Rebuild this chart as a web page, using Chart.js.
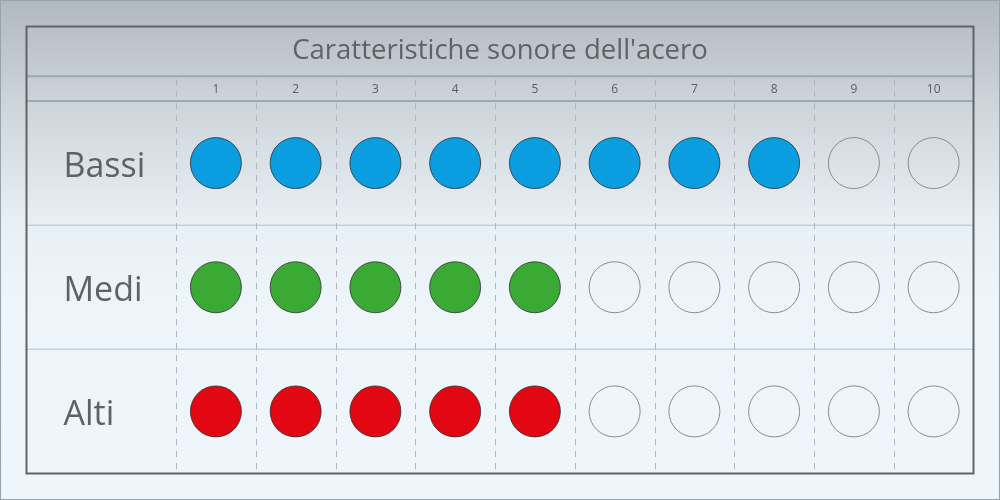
<!DOCTYPE html>
<html>
<head>
<meta charset="utf-8">
<script src="https://cdn.jsdelivr.net/npm/chart.js@4"></script>
<style>
  html,body{margin:0;padding:0;background:#ffffff;}
  #wrap{width:1000px;height:500px;}
</style>
</head>
<body>
<div id="wrap"><canvas id="c" width="1000" height="500"></canvas></div>
<script>
// ---- data ----
const chartTitle = "Caratteristiche sonore dell'acero";
const rowLabels = ["Bassi", "Medi", "Alti"];
const rowScores = [8, 5, 5];           // filled circles out of 10
const columnLabels = ["1","2","3","4","5","6","7","8","9","10"];
const rowColors = ["#0a9de0", "#3aaa35", "#e30613"];

// ---- build datasets from data ----
const rowY = rowLabels.map((_, i) => rowLabels.length - i - 0.5); // 2.5, 1.5, 0.5
const datasets = [];
const emptyPoints = [];
rowLabels.forEach((lab, r) => {
  const filled = [];
  columnLabels.forEach((c, k) => {
    const pt = {x: k + 1, y: rowY[r]};
    if (k < rowScores[r]) filled.push(pt); else emptyPoints.push(pt);
  });
  datasets.push({
    label: lab,
    data: filled,
    pointRadius: 25.5,
    pointHoverRadius: 25.5,
    backgroundColor: rowColors[r],
    borderColor: "rgba(40,40,40,0.75)",
    borderWidth: 1
  });
});
datasets.push({
  label: "vuoto",
  data: emptyPoints,
  pointRadius: 25.5,
  pointHoverRadius: 25.5,
  backgroundColor: "rgba(0,0,0,0)",
  borderColor: "#8a8d90",
  borderWidth: 1
});

const HEADER_TOP = 3.2, HEADER_BOTTOM = 3.0;

const tablePlugin = {
  id: 'table',
  beforeDraw(chart) {
    const ctx = chart.ctx, W = chart.width, H = chart.height;
    const g = ctx.createLinearGradient(0, 0, 0, H);
    g.addColorStop(0, "#b1b8bf");
    g.addColorStop(0.2, "#ccd3d9");
    g.addColorStop(0.45, "#e8f0f6");
    g.addColorStop(0.6, "#edf4fa");
    g.addColorStop(1, "#eef5fb");
    ctx.save();
    ctx.fillStyle = g;
    ctx.fillRect(0, 0, W, H);
    ctx.strokeStyle = "#9aa2a9";
    ctx.lineWidth = 1;
    ctx.strokeRect(0.5, 0.5, W - 1, H - 1);
    ctx.restore();
  },
  beforeDatasetsDraw(chart) {
    const ctx = chart.ctx, xs = chart.scales.x, ys = chart.scales.y, a = chart.chartArea;
    ctx.save();
    // row separators
    ctx.strokeStyle = "#c6ced6";
    ctx.lineWidth = 1.5;
    for (let v = 1; v < rowLabels.length; v++) {
      const y = ys.getPixelForValue(v);
      ctx.beginPath(); ctx.moveTo(a.left, y); ctx.lineTo(a.right, y); ctx.stroke();
    }
    // header lines
    ctx.strokeStyle = "#9fa7af";
    ctx.lineWidth = 2;
    [HEADER_TOP, HEADER_BOTTOM].forEach(v => {
      const y = ys.getPixelForValue(v);
      ctx.beginPath(); ctx.moveTo(a.left, y); ctx.lineTo(a.right, y); ctx.stroke();
    });
    // vertical dashed lines
    ctx.strokeStyle = "#aeb5bc";
    ctx.lineWidth = 1;
    ctx.setLineDash([6, 6]);
    for (let k = 0; k < columnLabels.length; k++) {
      const x = Math.round(xs.getPixelForValue(k + 0.5)) + 0.5;
      ctx.beginPath();
      ctx.moveTo(x, ys.getPixelForValue(HEADER_TOP) + 3);
      ctx.lineTo(x, ys.getPixelForValue(0));
      ctx.stroke();
    }
    ctx.setLineDash([]);
    // column labels
    ctx.fillStyle = "#5a5f64";
    ctx.font = "12px 'Open Sans'";
    ctx.textAlign = "center";
    ctx.textBaseline = "middle";
    columnLabels.forEach((c, k) => {
      ctx.fillText(c, xs.getPixelForValue(k + 1), ys.getPixelForValue((HEADER_TOP + HEADER_BOTTOM) / 2) + 1);
    });
    // row labels
    ctx.fillStyle = "#5e6266";
    ctx.font = "34px 'Open Sans'";
    ctx.textAlign = "left";
    rowLabels.forEach((l, r) => {
      ctx.fillText(l, a.left + 37, ys.getPixelForValue(rowY[r]) + 4);
    });
    // title
    ctx.textAlign = "center";
    ctx.fillStyle = "#5e6368";
    ctx.font = "27.5px 'Open Sans'";
    ctx.fillText(chartTitle, (a.left + a.right) / 2, (a.top + ys.getPixelForValue(HEADER_TOP)) / 2);
    ctx.restore();
  },
  afterDraw(chart) {
    const ctx = chart.ctx, a = chart.chartArea;
    ctx.save();
    ctx.strokeStyle = "#5d646a";
    ctx.lineWidth = 2;
    ctx.strokeRect(a.left, a.top, a.right - a.left, a.bottom - a.top);
    ctx.restore();
  }
};

new Chart(document.getElementById('c'), {
  type: 'scatter',
  data: { datasets },
  options: {
    responsive: false,
    animation: false,
    devicePixelRatio: 1,
    layout: { padding: { left: 25, right: 25, top: 25, bottom: 25 } },
    scales: {
      x: { type: 'linear', min: -1.375, max: 10.5, display: false },
      y: { type: 'linear', min: 0, max: 3.6, display: false }
    },
    plugins: { legend: { display: false }, tooltip: { enabled: false }, title: { display: false } },
    events: []
  },
  plugins: [tablePlugin]
});
</script>
</body>
</html>
